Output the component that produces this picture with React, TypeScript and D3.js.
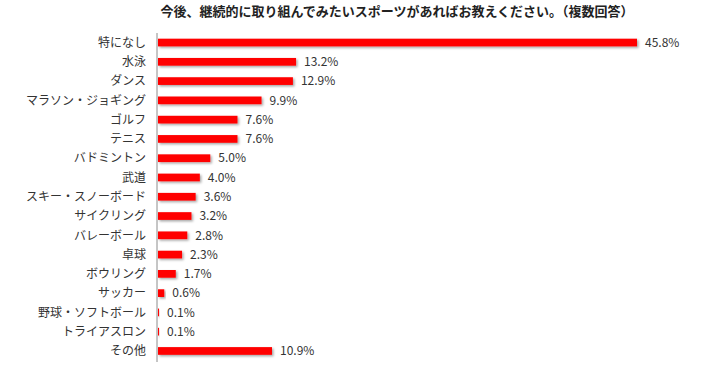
import React, {useRef, useEffect} from 'react';
import * as d3 from "d3";

// data
const categories = [
  "特になし", "水泳", "ダンス", "マラソン・ジョギング", "ゴルフ", "テニス",
  "バドミントン", "武道", "スキー・スノーボード", "サイクリング", "バレーボール",
  "卓球", "ボウリング", "サッカー", "野球・ソフトボール", "トライアスロン", "その他"
];
const values = [45.8, 13.2, 12.9, 9.9, 7.6, 7.6, 5.0, 4.0, 3.6, 3.2, 2.8, 2.3, 1.7, 0.6, 0.1, 0.1, 10.9];
const title = "今後、継続的に取り組んでみたいスポーツがあればお教えください。（複数回答）";

const FONT = "'Noto Sans CJK JP', 'Noto Sans', sans-serif";

function App(){
  const canvas = useRef<SVGSVGElement>(null);

  useEffect(() => {
    const margin = {top: 33, left: 157, bottom: 362};

    const svg = d3.select(canvas.current);
    svg.selectAll("*").remove();

    const defs = svg.append("defs");
    const f = defs.append("filter").attr("id", "shadow")
      .attr("x", "-5%").attr("y", "-50%").attr("width", "120%").attr("height", "250%");
    f.append("feDropShadow").attr("dx", 1.5).attr("dy", 1.5).attr("stdDeviation", 1)
      .attr("flood-color", "#000").attr("flood-opacity", 0.35);

    // scales
    const x = d3.scaleLinear().domain([0, 45.8]).range([margin.left + 1, 637]);
    const y = d3.scaleBand().domain(categories)
      .range([32.9, 360.6]).paddingInner(0.6).paddingOuter(0.3);

    // title
    svg.append("text")
      .attr("x", 397).attr("y", 16)
      .attr("text-anchor", "middle")
      .style("font-family", FONT).style("font-size", "13px").style("font-weight", "bold")
      .attr("fill", "#222")
      .text(title);

    // bars
    svg.append("g").selectAll("rect")
      .data(values).enter()
      .append("rect")
      .attr("x", x(0))
      .attr("y", (d, i) => y(categories[i])!)
      .attr("width", d => x(d) - x(0))
      .attr("height", y.bandwidth())
      .attr("fill", "#ff0000")
      .attr("filter", "url(#shadow)");

    // axis line
    svg.append("line")
      .attr("x1", margin.left).attr("x2", margin.left)
      .attr("y1", margin.top).attr("y2", margin.bottom)
      .attr("stroke", "#8c8c8c").attr("stroke-width", 1);

    // category labels
    svg.append("g").selectAll("text")
      .data(categories).enter()
      .append("text")
      .attr("x", 146)
      .attr("y", d => y(d)! + y.bandwidth() / 2)
      .attr("dy", "0.35em")
      .attr("text-anchor", "end")
      .style("font-family", FONT).style("font-size", "12px")
      .attr("fill", "#333")
      .text(d => d);

    // value labels
    svg.append("g").selectAll("text")
      .data(values).enter()
      .append("text")
      .attr("x", d => x(d) + 8)
      .attr("y", (d, i) => y(categories[i])! + y.bandwidth() / 2)
      .attr("dy", "0.35em")
      .style("font-family", FONT).style("font-size", "12px")
      .attr("fill", "#333")
      .text(d => d.toFixed(1) + "%");
  }, []);

  return (
    <svg ref={canvas} width={708} height={366}
      style={{position: "absolute", left: 0, top: 0, background: "#fff"}} />
  );
}

export default App;
